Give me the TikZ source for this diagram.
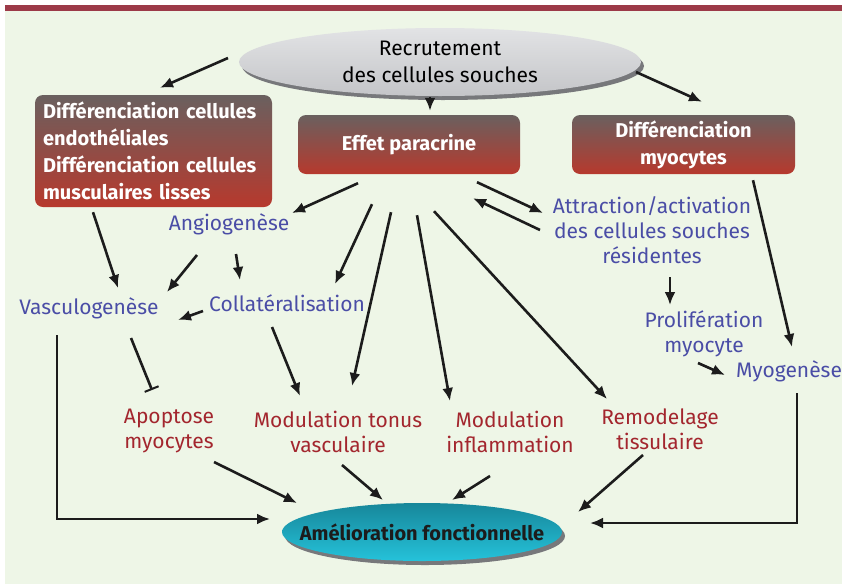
\documentclass[tikz,border=0pt]{standalone}
\usepackage{fontspec}
\setmainfont{Fira Sans}
\usepackage{tikz}
\usetikzlibrary{arrows.meta,shapes.geometric,shadows}

\definecolor{bgcol}{HTML}{EEF6E7}
\definecolor{barcol}{HTML}{9C3A48}
\definecolor{boxtop}{HTML}{6A605F}
\definecolor{boxred}{HTML}{B7392D}
\definecolor{bluecol}{HTML}{4A4DA6}
\definecolor{redcol}{HTML}{A3262E}
\definecolor{arrowcol}{HTML}{1C1C1C}
\definecolor{greytop}{HTML}{E2E3E5}
\definecolor{greybot}{HTML}{C4C5C8}
\definecolor{cyantop}{HTML}{17879A}
\definecolor{cyanbot}{HTML}{25C2DA}
\definecolor{shadowcol}{HTML}{77787B}

\tikzset{
  arr/.style={draw=arrowcol, line width=2.6pt, -{Latex[length=13pt,width=11pt]}},
  inhib/.style={draw=arrowcol, line width=2.6pt, -{Bar[width=15pt,line width=2pt]}},
  redbox/.style={rectangle, rounded corners=8pt, top color=boxtop, middle color=boxred,
    bottom color=boxred, text=white, inner sep=0pt, align=center,
    font=\fontsize{20}{27}\selectfont\bfseries},
  ovalnode/.style={ellipse, inner sep=0pt, outer sep=0pt, align=center,
    drop shadow={shadow xshift=3pt, shadow yshift=-4pt, opacity=1, fill=shadowcol}},
  bluetxt/.style={text=bluecol, align=center, inner sep=1pt, font=\fontsize{21}{25}\selectfont},
  redtxt/.style={text=redcol, align=center, inner sep=1pt, font=\fontsize{21}{25}\selectfont}
}

\begin{document}
\begin{tikzpicture}[x=1pt,y=-1pt]

    % Page, background and top bar
    \useasboundingbox (0,0) rectangle (842,584);
    \fill[white] (0,0) rectangle (842,584);
    \fill[bgcol] (5,11) rectangle (842,584);
    \fill[barcol] (5,5) rectangle (842,11);

    % Recruitment ellipse
    \node[ovalnode, minimum width=402pt, minimum height=68pt, top color=greytop, bottom color=greybot,
          font=\fontsize{21}{27}\selectfont] (rec) at (440,62) {Recrutement\\des cellules souches};

    % Red boxes
    \node[redbox, minimum width=237pt, minimum height=112pt, text width=221pt, align=left]
        (diffec) at (153.5,151) {Différenciation cellules\\endothéliales\\Différenciation cellules\\musculaires lisses};
    \node[redbox, minimum width=222pt, minimum height=59pt] (para) at (409,144.5) {Effet paracrine};
    \node[redbox, minimum width=223pt, minimum height=59pt] (diffmy) at (683.5,144.5) {Différenciation\\myocytes};

    % Blue processes
    \node[bluetxt] (angio) at (229,224) {Angiogenèse};
    \node[bluetxt] (vasc) at (89,308) {Vasculogenèse};
    \node[bluetxt] (coll) at (287,303) {Collatéralisation};
    \node[bluetxt] (attr) at (652,230) {Attraction/activation\\des cellules souches\\résidentes};
    \node[bluetxt] (prolif) at (704,334) {Prolifération\\myocyte};
    \node[bluetxt] (myo) at (789,371) {Myogenèse};

    % Red effects
    \node[redtxt] (apop) at (169,431) {Apoptose\\myocytes};
    \node[redtxt] (tonus) at (338,432) {Modulation tonus\\vasculaire};
    \node[redtxt] (inflam) at (510,432) {Modulation\\inflammation};
    \node[redtxt] (remod) at (660,429) {Remodelage\\tissulaire};

    % Result ellipse
    \node[ovalnode, minimum width=280pt, minimum height=58pt, inner xsep=-24pt, top color=cyantop,
          bottom color=cyanbot, text=arrowcol, font=\fontsize{20}{22}\selectfont\bfseries]
        (amel) at (422,532) {Amélioration fonctionnelle};

    % Arrows from recruitment
    \draw[arr] ([shift={(-11,-4)}]rec.west) -- ([shift={(6.5,-7)}]diffec.north);
    \draw[arr] ([shift={(-10,1)}]rec.south) -- ([shift={(21,-4)}]para.north);
    \draw[arr] ([shift={(-5,10)}]rec.east) -- ([shift={(18.5,-13)}]diffmy.north);

    % Left branch
    \draw[arr] ([shift={(-60.5,5)}]diffec.south) -- ([shift={(29,-20)}]vasc.center);
    \draw[arr] ([shift={(-51,9)}]para.south) -- ([shift={(63,-11)}]angio.center);
    \draw[arr] ([shift={(-32,31)}]angio.center) -- ([shift={(78,-16)}]vasc.center);
    \draw[arr] ([shift={(7,30)}]angio.center) -- ([shift={(-47,-23)}]coll.center);
    \draw[arr] ([shift={(-84,8)}]coll.center) -- ([shift={(89,12)}]vasc.center);
    \draw[inhib] ([shift={(42,30)}]vasc.center) -- ([shift={(-17,-41)}]apop.center);
    \draw[arr] ([shift={(-15,24)}]coll.center) -- ([shift={(-38,-36)}]tonus.center);

    % Paracrine effects
    \draw[arr] ([shift={(-37,30)}]para.south) -- ([shift={(48,-19)}]coll.center);
    \draw[arr] ([shift={(-18,38)}]para.south) -- ([shift={(14,-46)}]tonus.center);
    \draw[arr] ([shift={(8,41)}]para.south) -- ([shift={(-60,-31)}]inflam.center);
    \draw[arr] ([shift={(25,37)}]para.south) -- ([shift={(-53,-30)}]remod.center);
    \draw[arr] ([shift={(68,8)}]para.south) -- ([shift={(-109,-17)}]attr.center);
    \draw[arr] ([shift={(-112,0)}]attr.center) -- ([shift={(64,24)}]para.south);

    % Right branch
    \draw[arr] ([shift={(18,47)}]attr.center) -- ([shift={(-34,-29)}]prolif.center);
    \draw[arr] ([shift={(69.5,6)}]diffmy.south) -- ([shift={(3,-24)}]myo.center);
    \draw[arr] ([shift={(-6,29)}]prolif.center) -- ([shift={(-64,4)}]myo.center);

    % Towards functional improvement
    \draw[arr] ([shift={(45,31)}]apop.center) -- ([shift={(15,-29)}]amel.west);
    \draw[arr] ([shift={(4,33)}]tonus.center) -- ([shift={(-39,-3)}]amel.north);
    \draw[arr] ([shift={(-20,44)}]inflam.center) -- ([shift={(30,-3)}]amel.north);
    \draw[arr] ([shift={(-17,26)}]remod.center) -- ([shift={(16,-20)}]amel.east);
    \draw[arr] ([shift={(-32,27)}]vasc.center) |- ([shift={(-12,-13)}]amel.west);
    \draw[arr] ([shift={(8,22)}]myo.center) |- ([shift={(28,-9)}]amel.east);

\end{tikzpicture}
\end{document}
